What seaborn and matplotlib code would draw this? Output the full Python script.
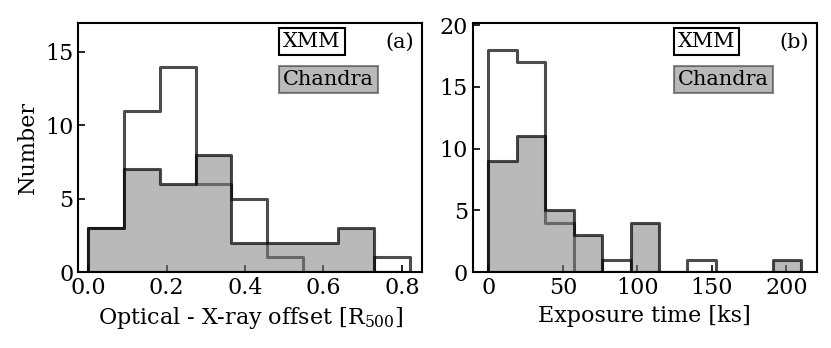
import numpy as np
import pandas as pd
import seaborn as sns
import matplotlib.pyplot as plt

# panel (a): optical - X-ray offset histogram
offset_edges = [0.0, 0.0912, 0.1824, 0.2736, 0.3648, 0.456, 0.5472, 0.6384, 0.7296, 0.8208]
offset_xmm = [3, 11, 14, 6, 5, 1, 0, 0, 1]
offset_chandra = [3, 7, 6, 8, 2, 2, 2, 3, 0]

# panel (b): exposure time histogram
expo_edges = [0.0, 19.09, 38.18, 57.27, 76.36, 95.45, 114.55, 133.64, 152.73, 171.82, 190.91, 210.0]
expo_xmm = [18, 17, 4, 0, 1, 0, 0, 1, 0, 0, 0]
expo_chandra = [9, 11, 5, 3, 0, 4, 0, 0, 0, 0, 1]

sns.set_style("ticks")
plt.rcParams["font.family"] = ["DejaVu Serif"]
plt.rcParams["mathtext.fontset"] = "dejavuserif"
plt.rcParams["font.size"] = 16
for key in ["text.color", "axes.labelcolor", "xtick.color", "ytick.color", "axes.edgecolor"]:
    plt.rcParams[key] = "black"

EDGE = (0, 0, 0, 0.7)
FILL = (0.5, 0.5, 0.5, 0.55)


def draw_panel(ax, edges, xmm, chandra, label):
    e = np.array(edges)
    df = pd.DataFrame({"x": (e[:-1] + e[1:]) / 2, "xmm": xmm, "chandra": chandra})
    sns.histplot(data=df, x="x", weights="xmm", bins=list(edges), element="step", fill=True,
                 color="black", facecolor="none", edgecolor=EDGE, linewidth=2.2, ax=ax)
    sns.histplot(data=df, x="x", weights="chandra", bins=list(edges), element="step", fill=True,
                 color="grey", facecolor=FILL, edgecolor=EDGE, linewidth=2.2, ax=ax)
    ax.text(0.596, 0.923, "XMM", transform=ax.transAxes, va="center", ha="left", fontsize=15,
            bbox=dict(boxstyle="square,pad=0.2", facecolor="white", edgecolor="black", linewidth=1.5))
    ax.text(0.596, 0.773, "Chandra", transform=ax.transAxes, va="center", ha="left", fontsize=15,
            bbox=dict(boxstyle="square,pad=0.2", facecolor=FILL, edgecolor=(0, 0, 0, 0.45), linewidth=1.5))
    ax.text(0.977, 0.923, label, transform=ax.transAxes, va="center", ha="right", fontsize=15)
    ax.tick_params(direction="in", length=5, width=1.2, top=False, right=False)
    for s in ax.spines.values():
        s.set_linewidth(1.5)
        s.set_visible(True)


fig, axes = plt.subplots(1, 2, figsize=(8.31, 3.48), dpi=100)
draw_panel(axes[0], offset_edges, offset_xmm, offset_chandra, "(a)")
draw_panel(axes[1], expo_edges, expo_xmm, expo_chandra, "(b)")

axes[0].set_xlim(-0.026, 0.852)
axes[0].set_ylim(0, 17)
axes[0].set_xticks([0.0, 0.2, 0.4, 0.6, 0.8])
axes[0].set_yticks([0, 5, 10, 15])
axes[0].set_xlabel(r"Optical - X-ray offset [R$_{500}$]")
axes[0].set_ylabel("Number")

axes[1].set_xlim(-10.5, 220.5)
axes[1].set_ylim(0, 20.2)
axes[1].set_xticks([0, 50, 100, 150, 200])
axes[1].set_yticks([0, 5, 10, 15, 20])
axes[1].set_xlabel("Exposure time [ks]")
axes[1].set_ylabel("")

fig.subplots_adjust(left=0.094, right=0.983, bottom=0.218, top=0.935, wspace=0.147)
fig.savefig("out.png", dpi=100)
